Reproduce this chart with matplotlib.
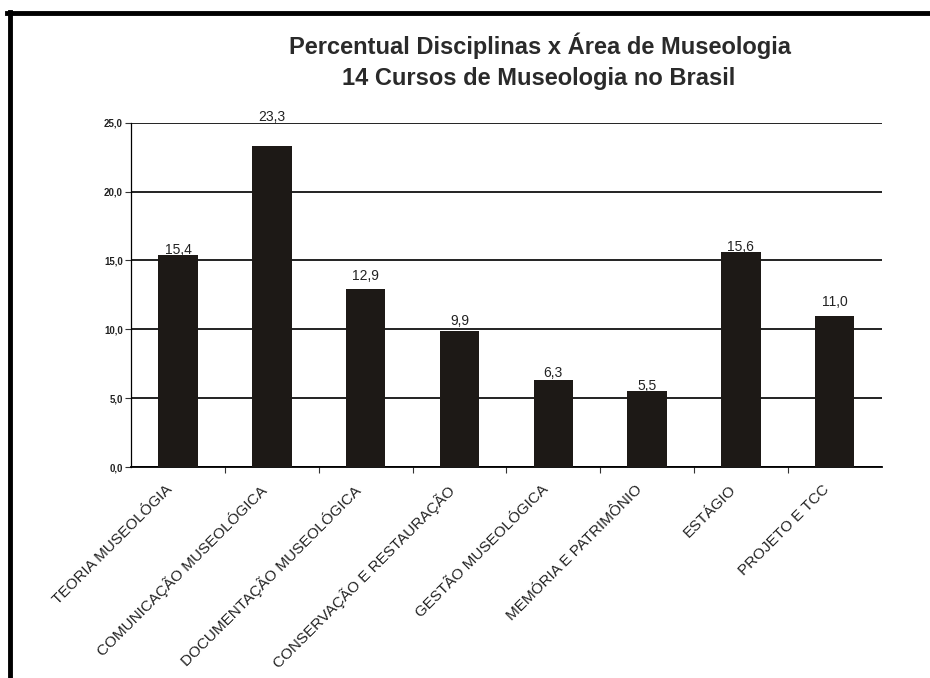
import matplotlib.pyplot as plt
from matplotlib.lines import Line2D

plt.rcParams["font.family"] = ["Liberation Sans", "DejaVu Sans"]

# data
areas = [
    "TEORIA MUSEOLÓGIA",
    "COMUNICAÇÃO MUSEOLÓGICA",
    "DOCUMENTAÇÃO MUSEOLÓGICA",
    "CONSERVAÇÃO E RESTAURAÇÃO",
    "GESTÃO MUSEOLÓGICA",
    "MEMÓRIA E PATRIMÔNIO",
    "ESTÁGIO",
    "PROJETO E TCC",
]
percent = [15.4, 23.3, 12.9, 9.9, 6.3, 5.5, 15.6, 11.0]
yticks = [0, 5, 10, 15, 20, 25]

# distance from bar top to label centre (points), as placed in the original
label_gap = [3.6, 21, 9.4, 7, 5, 3.6, 3.6, 10]

fig = plt.figure(figsize=(9.3, 6.78), dpi=100)
ax = fig.add_axes([0.141, 0.311, 0.807, 0.508])

x = range(len(areas))
ax.bar(x, percent, width=0.42, color="#1d1916", zorder=3)

for i, v in enumerate(percent):
    ax.annotate(f"{v:.1f}".replace(".", ","), (i, v),
                xytext=(0, label_gap[i]), textcoords="offset points",
                ha="center", va="center", fontsize=10, color="#222222", zorder=4)

ax.set_xlim(-0.5, len(areas) - 0.5)
ax.set_ylim(0, 25)
ax.set_yticks(yticks)
ax.set_yticklabels([f"{t:.1f}".replace(".", ",") for t in yticks],
                   fontsize=7, fontweight="bold", color="#222222")
ax.yaxis.grid(True, color="#111111", linewidth=1.3, zorder=1)

# only small ticks between the categories, names are drawn below
ax.set_xticks([i + 0.5 for i in range(len(areas) - 1)])
ax.set_xticklabels([])
ax.tick_params(axis="x", length=4, width=0.8, color="#333333")
ax.tick_params(axis="y", length=4, width=0.8, color="#333333", pad=2)

for i, name in enumerate(areas):
    ax.annotate(name, (i, 0), xycoords=("data", "axes fraction"),
                xytext=(-9, -11), textcoords="offset points",
                rotation=45, rotation_mode="anchor", ha="right", va="top",
                fontsize=11, color="#222222")

ax.spines["top"].set_visible(False)
ax.spines["right"].set_visible(False)
ax.spines["left"].set_linewidth(0.9)
ax.spines["bottom"].set_linewidth(1.3)

fig.text(0.581, 0.933, "Percentual Disciplinas x Área de Museologia",
         ha="center", va="center", fontsize=17, fontweight="bold", color="#2a2a2a")
fig.text(0.579, 0.884, "14 Cursos de Museologia no Brasil",
         ha="center", va="center", fontsize=17, fontweight="bold", color="#2a2a2a")

# black scan frame on top and left
fig.add_artist(Line2D([0.008, 1.0], [0.981, 0.981], color="black", linewidth=3.5,
                      transform=fig.transFigure))
fig.add_artist(Line2D([0.0105, 0.0105], [0.983, 0.0], color="black", linewidth=3.5,
                      transform=fig.transFigure))

fig.savefig("out.png", dpi=100)
